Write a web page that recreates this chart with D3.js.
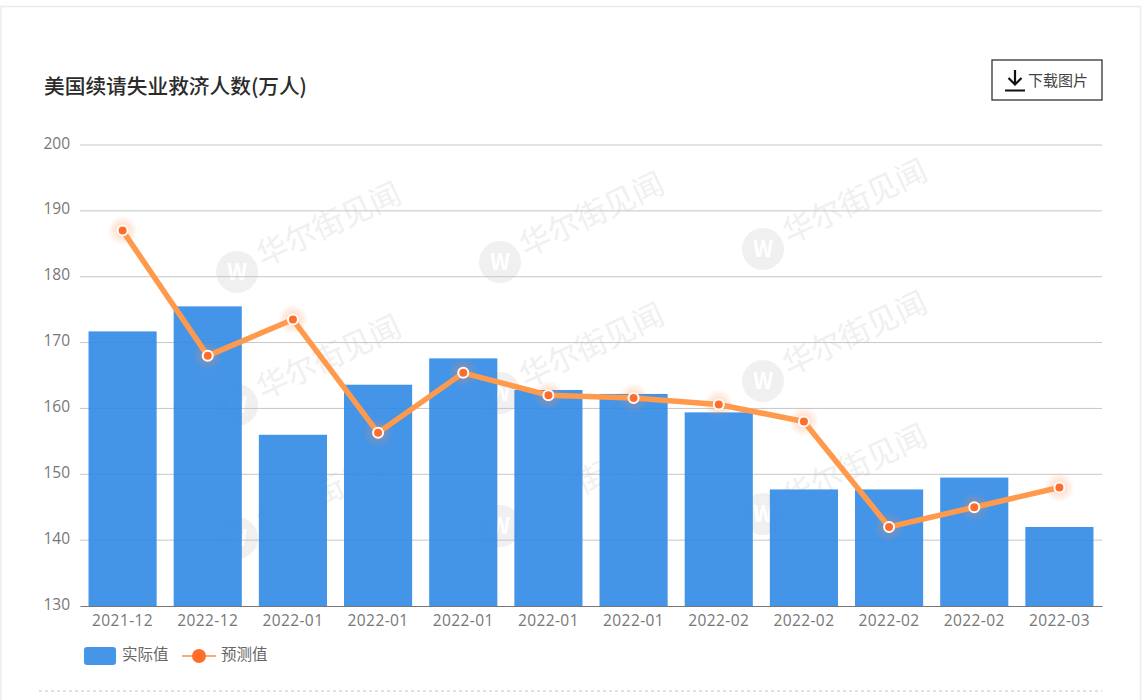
<!DOCTYPE html>
<html>
<head>
<meta charset="utf-8">
<script src="https://cdn.jsdelivr.net/npm/d3@7"></script>
<style>
    html, body { margin: 0; padding: 0; background: #fff; overflow: hidden; }
    text { font-family: "Noto Sans CJK SC", "Noto Sans", sans-serif; }
    .tick text { font-family: "Open Sans", "Noto Sans CJK SC", sans-serif; }
</style>
</head>
<body>
<div id="chart"></div>
<script>
const months = ['2021-12', '2022-12', '2022-01', '2022-01', '2022-01', '2022-01', '2022-01', '2022-02', '2022-02', '2022-02', '2022-02', '2022-03'];
const actual = [171.7, 175.5, 156, 163.6, 167.6, 162.8, 162.2, 159.4, 147.7, 147.7, 149.5, 142];
const forecast = [187, 168, 173.5, 156.3, 165.4, 162, 161.6, 160.6, 158, 142, 145, 148];
const yTicks = [130, 140, 150, 160, 170, 180, 190, 200];
const title = '美国续请失业救济人数(万人)';
const seriesNames = ['实际值', '预测值'];

const width = 1146, height = 700;
const margin = {left: 80, right: 44, top: 145, bottom: 94};

const svg = d3.select('#chart').append('svg')
    .attr('width', width)
    .attr('height', height)
    .style('display', 'block');

const defs = svg.append('defs');
const glow = defs.append('radialGradient').attr('id', 'glow');
glow.append('stop').attr('offset', '35%').attr('stop-color', '#ff8a4a').attr('stop-opacity', 0.28);
glow.append('stop').attr('offset', '100%').attr('stop-color', '#ff8a4a').attr('stop-opacity', 0);

const x = d3.scaleBand()
    .domain(d3.range(months.length))
    .range([margin.left, width - margin.right])
    .paddingInner(0.2)
    .paddingOuter(0.1);

const y = d3.scaleLinear()
    .domain([130, 200])
    .range([height - margin.bottom, margin.top]);

// page frame
svg.append('path')
    .attr('d', `M1,${height}V6.5H1140.5V${height}`)
    .attr('fill', 'none')
    .attr('stroke', '#ececec')
    .attr('stroke-width', 1.5);

svg.append('line')
    .attr('x1', 39).attr('x2', 1102)
    .attr('y1', 691).attr('y2', 691)
    .attr('stroke', '#c4c4c4')
    .attr('stroke-dasharray', '3 3');

// title
svg.append('text')
    .attr('x', 44).attr('y', 93.5)
    .attr('font-size', 20.7)
    .attr('font-weight', 500)
    .attr('fill', '#2b2b2b')
    .text(title);

// download button
const btn = svg.append('g').attr('transform', 'translate(992,60)');
btn.append('rect')
    .attr('x', 0).attr('y', 0)
    .attr('width', 110).attr('height', 40)
    .attr('fill', '#fff')
    .attr('stroke', '#333')
    .attr('stroke-width', 1.3);
btn.append('path')
    .attr('d', 'M23,10V24M16.5,18L23,24.5L29.5,18M13,30.5H33')
    .attr('fill', 'none')
    .attr('stroke', '#111')
    .attr('stroke-width', 2.2);
btn.append('text')
    .attr('x', 36).attr('y', 25.5)
    .attr('font-size', 15)
    .attr('fill', '#444')
    .text('下载图片');

// watermarks, under the see-through bars
[{x: 237, y: 272}, {x: 500, y: 262}, {x: 763, y: 249},
 {x: 237, y: 405}, {x: 500, y: 393}, {x: 763, y: 381},
 {x: 237, y: 538}, {x: 500, y: 526}, {x: 763, y: 514}].forEach(d => {
    const wm = svg.append('g').attr('transform', `translate(${d.x},${d.y})`);
    wm.append('circle').attr('r', 21).attr('fill', '#f0f0f0');
    wm.append('text')
        .attr('text-anchor', 'middle')
        .attr('y', 8)
        .attr('font-size', 22)
        .attr('font-weight', 700)
        .attr('fill', '#fff')
        .text('W');
    wm.append('text')
        .attr('transform', 'translate(26,-5) rotate(-25)')
        .attr('font-size', 31)
        .attr('fill', '#f0f0f0')
        .text('华尔街见闻');
});

// grid and axes
svg.append('g')
    .selectAll('line')
    .data(yTicks.slice(1))
    .join('line')
    .attr('x1', margin.left)
    .attr('x2', width - margin.right)
    .attr('y1', d => y(d))
    .attr('y2', d => y(d))
    .attr('stroke', '#c6c6c6')
    .attr('stroke-width', 1);

const yAxis = svg.append('g')
    .attr('transform', `translate(${margin.left},0)`)
    .call(d3.axisLeft(y).tickValues(yTicks).tickSize(0).tickPadding(10));
yAxis.select('.domain').remove();
yAxis.selectAll('text')
    .attr('font-size', 15.5)
    .attr('dy', '0.2em')
    .attr('fill', '#777');

// bars, slightly see-through so the grid shows
svg.append('g')
    .selectAll('rect')
    .data(actual)
    .join('rect')
    .attr('x', (d, i) => x(i))
    .attr('y', d => y(d))
    .attr('width', x.bandwidth())
    .attr('height', d => y(130) - y(d))
    .attr('fill', '#308ae6')
    .attr('fill-opacity', 0.9);

const xAxis = svg.append('g')
    .attr('transform', `translate(0,${y(130)})`)
    .call(d3.axisBottom(x).tickFormat(i => months[i]).tickSize(0).tickPadding(9));
xAxis.select('.domain').attr('stroke', '#777').attr('stroke-width', 1.2);
xAxis.selectAll('text')
    .attr('font-size', 15.5)
    .attr('letter-spacing', 0.4)
    .attr('fill', '#777');

// forecast line
const line = d3.line()
    .x((d, i) => x(i) + x.bandwidth() / 2)
    .y(d => y(d));

const dots = svg.append('g')
    .selectAll('g')
    .data(forecast)
    .join('g')
    .attr('transform', (d, i) => `translate(${x(i) + x.bandwidth() / 2},${y(d)})`);
dots.append('circle').attr('r', 15).attr('fill', 'url(#glow)');

svg.append('path')
    .datum(forecast)
    .attr('d', line)
    .attr('fill', 'none')
    .attr('stroke', '#ff9a4d')
    .attr('stroke-width', 5.5);

svg.append('g')
    .selectAll('circle')
    .data(forecast)
    .join('circle')
    .attr('cx', (d, i) => x(i) + x.bandwidth() / 2)
    .attr('cy', d => y(d))
    .attr('r', 5)
    .attr('fill', '#ff6d2a')
    .attr('stroke', '#fff')
    .attr('stroke-width', 2);

// legend
const legend = svg.append('g');
legend.append('rect')
    .attr('x', 84).attr('y', 647)
    .attr('width', 32).attr('height', 18)
    .attr('rx', 3)
    .attr('fill', '#4596e9');
legend.append('text')
    .attr('x', 122).attr('y', 660)
    .attr('font-size', 15.5)
    .attr('fill', '#666')
    .text(seriesNames[0]);
legend.append('line')
    .attr('x1', 182).attr('x2', 216)
    .attr('y1', 656).attr('y2', 656)
    .attr('stroke', '#ffa878')
    .attr('stroke-width', 2);
legend.append('circle')
    .attr('cx', 199).attr('cy', 656)
    .attr('r', 7)
    .attr('fill', '#ff6d2a');
legend.append('text')
    .attr('x', 221).attr('y', 660)
    .attr('font-size', 15.5)
    .attr('fill', '#666')
    .text(seriesNames[1]);
</script>
</body>
</html>
